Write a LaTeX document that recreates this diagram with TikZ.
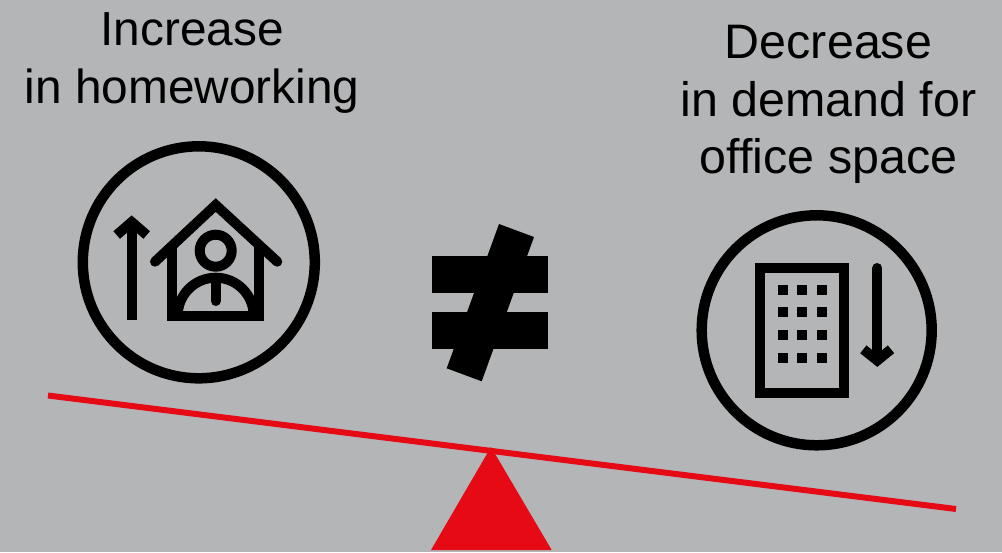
\documentclass[tikz,border=0pt]{standalone}
\usepackage{fontspec}
\setmainfont{Liberation Sans}
\usepackage{xcolor}
\usetikzlibrary{positioning,calc}
\definecolor{slab}{HTML}{B4B5B7}
\definecolor{beamred}{HTML}{E60A14}
\tikzset{
title/.style={
align=center,
inner sep=0pt,
font=\fontsize{47.8}{57.8}\selectfont
},
ring/.style={
draw,
circle,
line width=10.5pt,
minimum size=232pt,
inner sep=0pt
},
icon/.style={
line width=10pt,
line cap=butt,
miter limit=10
},
bar/.style={
fill=black
},
window/.style={
fill=black,
minimum size=10pt,
inner sep=0pt
}
}
\begin{document}
\begin{tikzpicture}[x=1pt,y=-1pt]
\fill[slab](0,0)rectangle(1002,552);
\useasboundingbox(0,0)rectangle(1002,552);

\node[title](hometitle) at (192,63){Increase\\in homeworking};
\node[title,font=\fontsize{48.4}{57.8}\selectfont](officetitle) at (828.5,104.5){Decrease\\in demand for\\office space};

\node[ring](homering) at (198.8,262.3){};
\node[ring,minimum size=230pt](officering) at (816.7,330.3){};

% up arrow
\draw[icon](131.7,320)--(131.7,223);
\draw[icon,line cap=butt](116.7,235)--(131.7,222)--(146.7,235);

% house with person
\draw[icon,line cap=round](155,261.7)--(215.7,205)--(277.3,261.7);
\draw[icon,line join=miter](172.3,245)--(172.3,315.7)--(259.3,315.7)--(259.3,245);
\draw[icon](215.7,250.7) circle[radius=16];
\draw[icon](177.7,315.7) arc[start angle=180,end angle=360,radius=38];
\draw[icon,line cap=round](215.7,283)--(215.7,301);

% building
\draw[line width=10pt](760,268.3) rectangle (844.3,392.7);
\foreach \x in {783,802.3,822}
\foreach \y in {290,312.3,335.3,357.7}
\node[window] at (\x,\y){};

% down arrow
\draw[icon,line cap=round](877.3,268)--(877.3,350);
\draw[icon](863.3,349.3)--(877.3,360.5)--(891,349.3);

% not equal
\fill[bar](432.3,256.3) rectangle (548.3,293.3);
\fill[bar](432.3,312) rectangle (548.3,349);
\fill[bar](499,224)--(534,237)--(481.7,381.3)--(446.7,368.3)--cycle;

% seesaw
\coordinate(beamleft) at (48,395.5);
\coordinate(beamright) at (956,509);
\coordinate(pivot) at (491,447);
\fill[beamred](pivot)--(551.7,550)--(431,550)--cycle;
\draw[beamred,line width=6pt](beamleft)--(beamright);
\end{tikzpicture}
\end{document}
